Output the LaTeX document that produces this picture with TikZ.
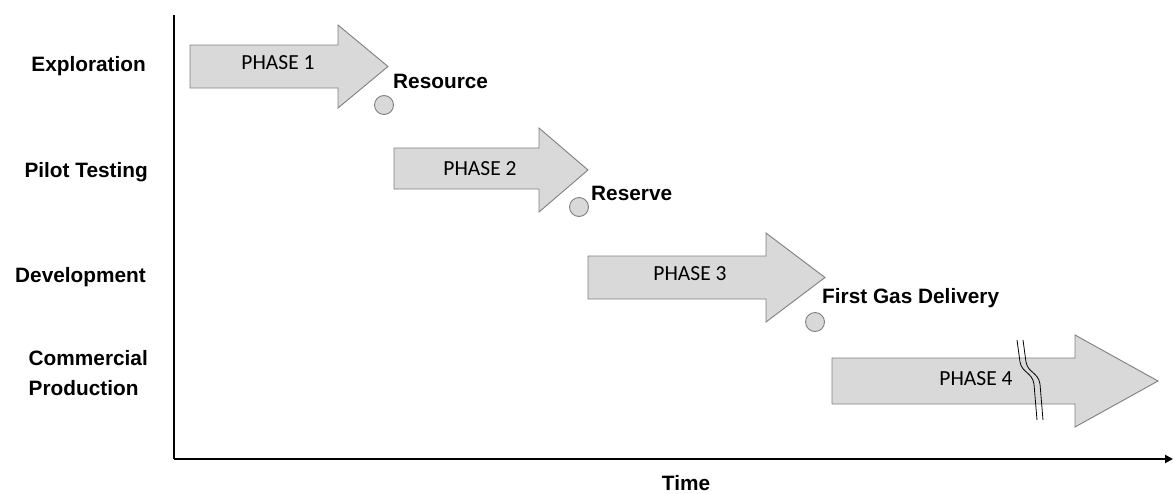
\documentclass[tikz,border=0pt]{standalone}
\usepackage{fontspec}
\setmainfont{Liberation Sans}
\newfontfamily\phasefont{Carlito}
\usetikzlibrary{arrows.meta}
\definecolor{phasefill}{HTML}{D9D9D9}
\definecolor{phaseline}{HTML}{7F7F7F}
\begin{document}
\begin{tikzpicture}[x=1pt,y=-1pt,
   phase/.style={fill=phasefill,draw=phaseline,line width=0.9pt},
   phasetext/.style={font=\phasefont\fontsize{21.5}{24}\selectfont,anchor=base},
   stage/.style={font=\bfseries\fontsize{20.8}{30}\selectfont,anchor=base east,align=left,inner sep=0pt},
   mile/.style={font=\bfseries\fontsize{20.8}{24}\selectfont,anchor=base west,inner sep=0pt},
   gate/.style={circle,fill=phasefill,draw=phaseline,line width=0.9pt,minimum size=19pt,inner sep=0pt}]
   \useasboundingbox (0,0) rectangle (1173,493);
   % axes
   \coordinate (ytop) at (174,15);
   \coordinate (o) at (174,459);
   \coordinate (xend) at (1173,459);
   \draw[line width=2.4pt] (ytop) -- (o);
   \draw[line width=2.4pt,-{Triangle[length=8pt,width=8pt]}] (o) -- (xend);
   \node[stage,anchor=base] (t) at (686,490) {Time};
   % stages
   \node[stage] (s1) at (146,71) {Exploration};
   \node[stage] (s2) at (148,177) {Pilot Testing};
   \node[stage] (s3) at (146,282) {Development};
   \node[stage] (s4) at (148,395) {Commercial\\Production};
   % phase arrows
   \foreach \xa/\ya/\yb/\xb/\hu/\hd/\xt in {190/45/88/338/25/108/388,
      394/148/189/539/128/212/588, 588/256/299/766/233/322/825,
      832/358/404/1075/335/427/1158} {
    \draw[phase] (\xa,\ya) -- (\xb,\ya) -- (\xb,\hu) -- (\xt,{(\hu+\hd)/2})
       -- (\xb,\hd) -- (\xb,\yb) -- (\xa,\yb) -- cycle;
   }
   \node[phasetext] (p1) at (278,69) {PHASE 1};
   \node[phasetext] (p2) at (480,175) {PHASE 2};
   \node[phasetext] (p3) at (690,280) {PHASE 3};
   \node[phasetext] (p4) at (976,385) {PHASE 4};
   % break in phase 4
   \foreach \d in {0,6} {
    \draw[line width=0.8pt] (1017+\d,340) -- (1020+\d,362)
       .. controls (1022+\d,373) and (1032+\d,372) .. (1034+\d,384) -- (1037+\d,420);
   }
   % milestones
   \node[gate] (g1) at (384,105) {};
   \node[gate] (g2) at (579,207) {};
   \node[gate] (g3) at (815,322) {};
   \node[mile] (m1) at (393,88) {Resource};
   \node[mile] (m2) at (591,200) {Reserve};
   \node[mile] (m3) at (822,303) {First Gas Delivery};
\end{tikzpicture}
\end{document}
